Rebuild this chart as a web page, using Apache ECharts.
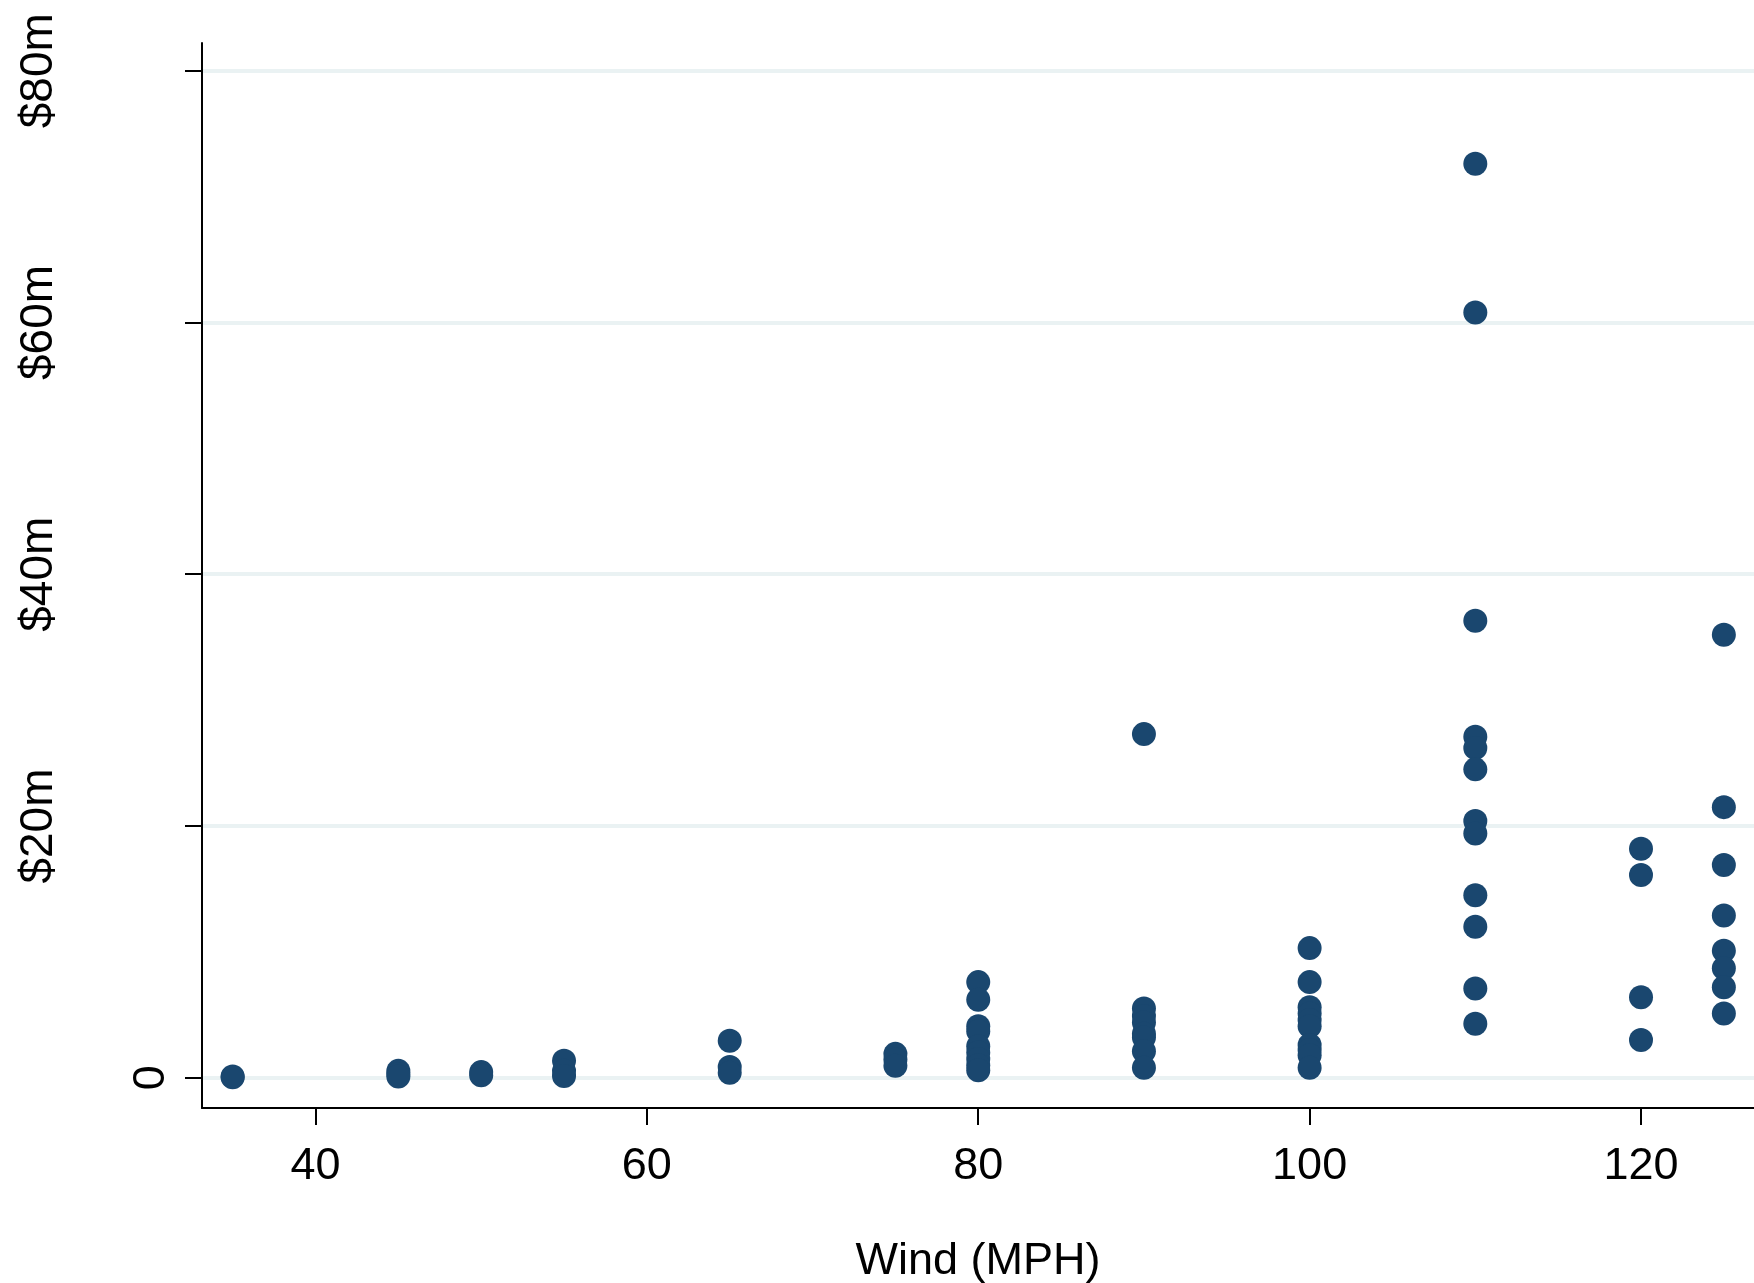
<!DOCTYPE html>
<html>
<head>
<meta charset="utf-8">
<script src="https://cdn.jsdelivr.net/npm/echarts@6/dist/echarts.min.js"></script>
<style>
  html, body { margin: 0; padding: 0; background: #fff; }
  #container { width: 1754px; height: 1283px; }
</style>
</head>
<body>
<div id="container"></div>
<script>
// wind speed (MPH) groups and damage ($m)
var windSpeeds = [35, 45, 50, 55, 65, 75, 80, 90, 100, 110, 120, 125];
var damage35 = [0.1, 0.05];
var damage45 = [0.55, 0.3, 0.1];
var damage50 = [0.45, 0.2];
var damage55 = [1.35, 0.55, 0.15];
var damage65 = [2.95, 0.85, 0.4];
var damage75 = [1.9, 1.45, 0.95];
var damage80 = [7.6, 6.2, 4.1, 3.7, 2.5, 2.0, 1.5, 1.0, 0.6];
var damage90 = [27.3, 5.5, 4.9, 4.4, 3.5, 3.2, 2.1, 0.8];
var damage100 = [10.3, 7.6, 5.6, 5.1, 4.6, 4.1, 2.6, 2.2, 1.8, 0.8];
var damage110 = [72.6, 60.8, 36.3, 27.1, 26.2, 24.5, 20.4, 19.4, 14.5, 12.0, 7.1, 4.3];
var damage120 = [18.2, 16.1, 6.4, 3.0];
var damage125 = [35.2, 21.5, 16.9, 12.9, 10.1, 8.7, 7.2, 5.1];

var xTicks = [40, 60, 80, 100, 120];
var yTicks = [0, 20, 40, 60, 80];

var groups = [damage35, damage45, damage50, damage55, damage65, damage75,
              damage80, damage90, damage100, damage110, damage120, damage125];

var points = [];
for (var i = 0; i < windSpeeds.length; i++) {
    for (var j = 0; j < groups[i].length; j++) {
        points.push([windSpeeds[i], groups[i][j]]);
    }
}

var dom = document.getElementById("container");
var myChart = echarts.init(dom);
var font = 'Liberation Sans, Arial, sans-serif';

var option = {
    animation: false,
    backgroundColor: '#ffffff',
    grid: {
        left: 202,
        right: 0,
        top: 43,
        bottom: 175,
        containLabel: false,
        outerBoundsMode: 'none'
    },
    xAxis: {
        type: 'value',
        min: 33.15,
        max: 126.82,
        name: 'Wind (MPH)',
        nameLocation: 'middle',
        nameGap: 131,
        nameTextStyle: { fontSize: 45, color: '#000', fontFamily: font },
        axisLine: { show: true, onZero: false, lineStyle: { color: '#000', width: 2 } },
        axisTick: { show: true, length: 17, customValues: xTicks, lineStyle: { color: '#000', width: 2 } },
        axisLabel: { customValues: xTicks, fontSize: 45, color: '#000', fontFamily: font, margin: 36 },
        splitLine: { show: false }
    },
    yAxis: [{
        type: 'value',
        min: -2.4,
        max: 82.2,
        position: 'left',
        axisLine: { show: true, onZero: false, lineStyle: { color: '#000', width: 2 } },
        axisTick: { show: true, length: 17, customValues: yTicks, lineStyle: { color: '#000', width: 2 } },
        axisLabel: { customValues: [0], rotate: 90, fontSize: 45, color: '#000', fontFamily: font, margin: 28 },
        splitLine: { show: true, lineStyle: { color: '#eaf2f3', width: 4 } }
    }, {
        type: 'value',
        min: -2.4,
        max: 82.2,
        position: 'left',
        axisLine: { show: false, onZero: false },
        axisTick: { show: false },
        axisLabel: {
            customValues: [20, 40, 60, 80],
            rotate: 90,
            fontSize: 46,
            color: '#000',
            fontFamily: font,
            margin: 140,
            formatter: function (v) { return '$' + v + 'm'; }
        },
        splitLine: { show: false }
    }],
    series: [{
        type: 'scatter',
        yAxisIndex: 0,
        data: points,
        symbol: 'circle',
        symbolSize: 24,
        itemStyle: { color: '#1a476f', opacity: 1 },
        z: 3
    }]
};

if (option && typeof option === "object") {
    myChart.setOption(option, true);
}
</script>
</body>
</html>
